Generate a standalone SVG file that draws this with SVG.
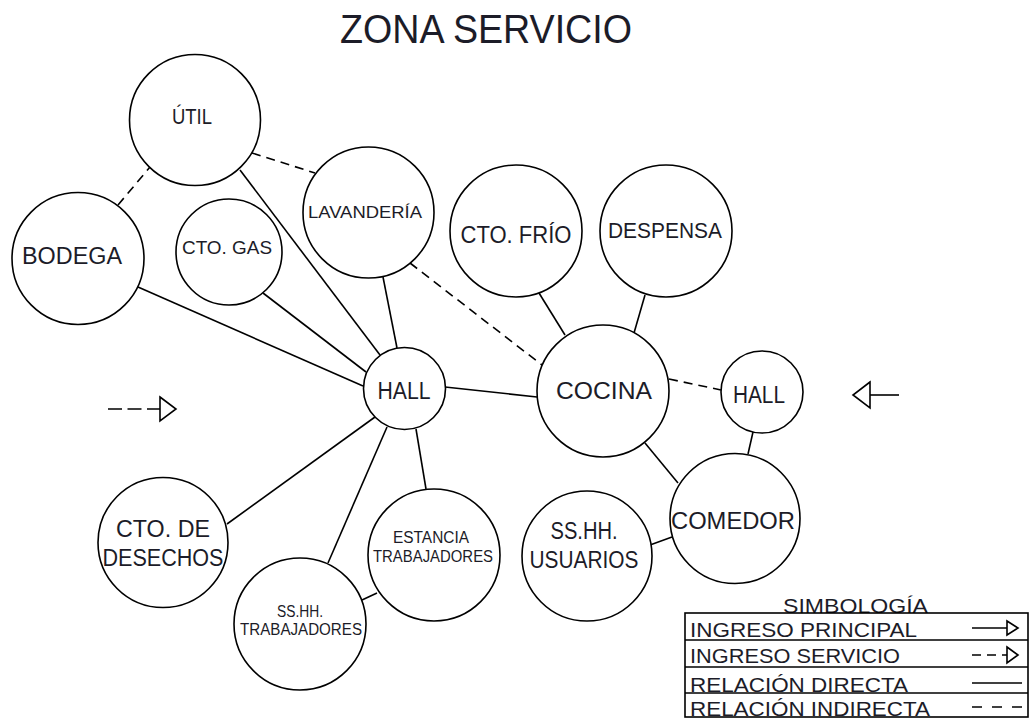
<svg xmlns="http://www.w3.org/2000/svg" width="1029" height="718" viewBox="0 0 1029 718">
<style>
.n{fill:#fff;stroke:#000;stroke-width:1.6}
.c{stroke:#000;stroke-width:1.6;fill:none}
.d{stroke:#000;stroke-width:1.6;fill:none;stroke-dasharray:9 6}
.t{font-family:"Liberation Sans",Arial,sans-serif;fill:#1c1c28;text-anchor:middle}
.l{font-family:"Liberation Sans",Arial,sans-serif;fill:#1c1c28}
</style>
<rect width="1029" height="718" fill="#fff"/>
<text class="t" x="486" y="43" font-size="41" textLength="292" lengthAdjust="spacingAndGlyphs">ZONA SERVICIO</text>
<g id="connectors">
<line class="c" x1="240" y1="170" x2="380" y2="355"/>
<line class="c" x1="138" y1="287" x2="363" y2="386"/>
<line class="c" x1="263" y1="293" x2="366" y2="372"/>
<line class="c" x1="383" y1="277" x2="397" y2="348"/>
<line class="d" x1="410" y1="263" x2="542" y2="365"/>
<line class="d" x1="252" y1="153" x2="315" y2="173"/>
<line class="d" x1="118" y1="205" x2="150" y2="167"/>
<line class="c" x1="445" y1="387" x2="537" y2="397"/>
<line class="c" x1="539" y1="293" x2="565" y2="335"/>
<line class="c" x1="645" y1="295" x2="634" y2="333"/>
<line class="d" x1="669" y1="379" x2="721" y2="390"/>
<line class="c" x1="753" y1="432" x2="748" y2="454"/>
<line class="c" x1="645" y1="443" x2="678" y2="483"/>
<line class="c" x1="650" y1="545" x2="672" y2="537"/>
<line class="c" x1="375" y1="417" x2="227" y2="524"/>
<line class="c" x1="387" y1="427" x2="328" y2="563"/>
<line class="c" x1="416" y1="429" x2="426" y2="489"/>
<line class="c" x1="362" y1="600" x2="377" y2="593"/>
</g>
<g id="util"><circle class="n" cx="195" cy="120" r="65.5"/><text class="t" x="192" y="124" font-size="22" textLength="40" lengthAdjust="spacingAndGlyphs">ÚTIL</text></g>
<g id="bodega"><circle class="n" cx="78" cy="258.5" r="66"/><text class="t" x="72" y="264" font-size="23" textLength="100" lengthAdjust="spacingAndGlyphs">BODEGA</text></g>
<g id="cto-gas"><circle class="n" cx="229" cy="252" r="53"/><text class="t" x="227" y="254" font-size="18" textLength="90" lengthAdjust="spacingAndGlyphs">CTO. GAS</text></g>
<g id="lavanderia"><circle class="n" cx="368.5" cy="212.5" r="65.5"/><text class="t" x="365" y="218" font-size="17" textLength="114" lengthAdjust="spacingAndGlyphs">LAVANDERÍA</text></g>
<g id="cto-frio"><circle class="n" cx="516" cy="231" r="66"/><text class="t" x="516" y="243" font-size="23" textLength="111" lengthAdjust="spacingAndGlyphs">CTO. FRÍO</text></g>
<g id="despensa"><circle class="n" cx="666" cy="231" r="66"/><text class="t" x="665" y="238" font-size="22" textLength="114" lengthAdjust="spacingAndGlyphs">DESPENSA</text></g>
<g id="hall-1"><circle class="n" cx="404.5" cy="388.5" r="41"/><text class="t" x="404" y="399" font-size="23" textLength="53" lengthAdjust="spacingAndGlyphs">HALL</text></g>
<g id="cocina"><circle class="n" cx="603" cy="391" r="66"/><text class="t" x="604" y="399" font-size="23" textLength="96" lengthAdjust="spacingAndGlyphs">COCINA</text></g>
<g id="hall-2"><circle class="n" cx="762" cy="392" r="41"/><text class="t" x="759" y="403" font-size="23" textLength="52" lengthAdjust="spacingAndGlyphs">HALL</text></g>
<g id="comedor"><circle class="n" cx="735" cy="518.5" r="65"/><text class="t" x="733" y="529" font-size="23" textLength="124" lengthAdjust="spacingAndGlyphs">COMEDOR</text></g>
<g id="sshh-usuarios"><circle class="n" cx="587" cy="556" r="65"/><text class="t" x="584" y="539" font-size="23" textLength="67" lengthAdjust="spacingAndGlyphs">SS.HH.</text><text class="t" x="584" y="568" font-size="23" textLength="109" lengthAdjust="spacingAndGlyphs">USUARIOS</text></g>
<g id="cto-desechos"><circle class="n" cx="163" cy="542.5" r="65"/><text class="t" x="163" y="537" font-size="23" textLength="94" lengthAdjust="spacingAndGlyphs">CTO. DE</text><text class="t" x="163" y="566" font-size="23" textLength="121" lengthAdjust="spacingAndGlyphs">DESECHOS</text></g>
<g id="estancia"><circle class="n" cx="434" cy="555" r="66"/><text class="t" x="431" y="543" font-size="16" textLength="76" lengthAdjust="spacingAndGlyphs">ESTANCIA</text><text class="t" x="433" y="562" font-size="16" textLength="120" lengthAdjust="spacingAndGlyphs">TRABAJADORES</text></g>
<g id="sshh-trabajadores"><circle class="n" cx="300" cy="624" r="66"/><text class="t" x="300" y="617" font-size="16" textLength="46" lengthAdjust="spacingAndGlyphs">SS.HH.</text><text class="t" x="301" y="635" font-size="16" textLength="122" lengthAdjust="spacingAndGlyphs">TRABAJADORES</text></g>
<g id="ingreso-servicio">
<line class="c" x1="108" y1="409" x2="160" y2="409" stroke-dasharray="14 5.5"/>
<polygon class="c" points="160,397 176,409 160,421"/>
</g>
<g id="ingreso-principal">
<polygon class="c" points="870,382 853,395 870,408"/>
<line class="c" x1="870" y1="395" x2="899" y2="395"/>
</g>
<g id="legend">
<text class="l" x="783" y="613" font-size="21" textLength="145" lengthAdjust="spacingAndGlyphs">SIMBOLOGÍA</text>
<rect x="685" y="613" width="343" height="104" fill="none" stroke="#000" stroke-width="1.6"/>
<line class="c" x1="685" y1="640" x2="1028" y2="640"/>
<line class="c" x1="685" y1="667" x2="1028" y2="667"/>
<line class="c" x1="685" y1="693" x2="1028" y2="693"/>
<text class="l" x="690" y="637" font-size="21" textLength="227" lengthAdjust="spacingAndGlyphs">INGRESO PRINCIPAL</text>
<text class="l" x="690" y="663" font-size="21" textLength="210" lengthAdjust="spacingAndGlyphs">INGRESO SERVICIO</text>
<text class="l" x="690" y="692" font-size="21" textLength="218" lengthAdjust="spacingAndGlyphs">RELACIÓN DIRECTA</text>
<text class="l" x="690" y="716" font-size="21" textLength="240" lengthAdjust="spacingAndGlyphs">RELACIÓN INDIRECTA</text>
<line class="c" x1="972" y1="628" x2="1007" y2="628"/>
<polygon class="c" points="1007,621 1018,628 1007,635"/>
<line class="c" x1="972" y1="655" x2="1007" y2="655" stroke-dasharray="9 6"/>
<polygon class="c" points="1007,647 1018,655 1007,663"/>
<line class="c" x1="972" y1="683" x2="1022" y2="683"/>
<line class="c" x1="972" y1="707" x2="1022" y2="707" stroke-dasharray="10 10"/>
</g>
</svg>
